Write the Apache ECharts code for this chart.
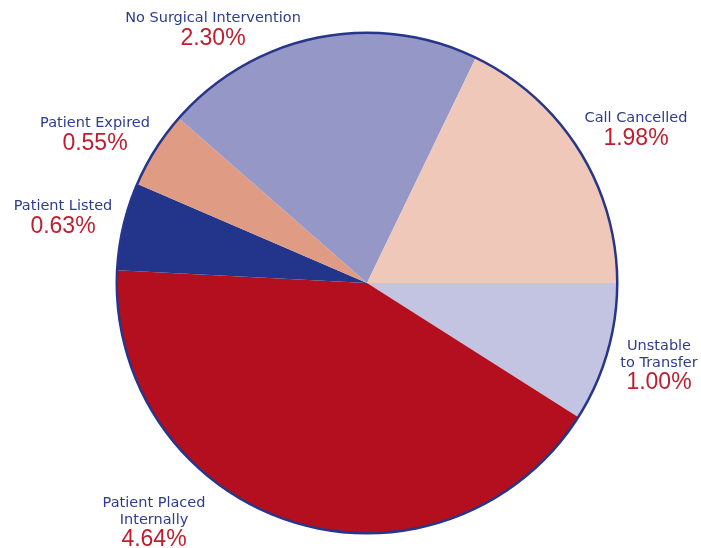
<!DOCTYPE html>
<html>
<head>
<meta charset="utf-8">
<script src="https://cdn.jsdelivr.net/npm/echarts@6/dist/echarts.min.js"></script>
<style>html,body{margin:0;padding:0;background:#fff;}#c{width:701px;height:548px;}</style>
</head>
<body>
<div id="c"></div>
<script>
var categories = ['Unstable\nto Transfer', 'Patient Placed\nInternally', 'Patient Listed', 'Patient Expired', 'No Surgical Intervention', 'Call Cancelled'];
var values = [1.00, 4.64, 0.63, 0.55, 2.30, 1.98];
var valueLabels = ['1.00%', '4.64%', '0.63%', '0.55%', '2.30%', '1.98%'];
var colors = ['#c3c4e1', '#b30f1e', '#22358a', '#e09b85', '#9597c6', '#efc8b9'];
var labelPos = [[659, 338], [154, 495], [63, 198], [95, 115], [213, 10], [636, 110]];

var chart = echarts.init(document.getElementById('c'));
var data = categories.map(function (c, i) {
  return { name: c, value: values[i], itemStyle: { color: colors[i] } };
});
chart.setOption({
  animation: false,
  series: [{
    type: 'pie',
    center: [367, 283],
    radius: 250,
    startAngle: 0,
    clockwise: true,
    avoidLabelOverlap: false,
    itemStyle: { borderWidth: 0 },
    emphasis: { disabled: true },
    label: {
      show: true,
      position: 'outside',
      formatter: function (p) {
        return '{n|' + p.name.split('\n').join('}\n{n|') + '}\n{p|' + valueLabels[p.dataIndex] + '}';
      },
      rich: {
        n: { fontFamily: 'DejaVu Sans, Verdana, sans-serif', fontSize: 14.5, color: '#2e3c8f', lineHeight: 16.5, align: 'center' },
        p: { fontFamily: 'Liberation Sans, Arial, sans-serif', fontSize: 23, color: '#be1e2d', lineHeight: 24, align: 'center' }
      }
    },
    labelLine: { show: false },
    labelLayout: function (params) {
      var pos = labelPos[params.dataIndex];
      return { x: pos[0], y: pos[1], align: 'center', verticalAlign: 'top' };
    },
    data: data
  }, {
    type: 'pie',
    center: [367, 283],
    radius: [249, 251.5],
    silent: true,
    label: { show: false },
    labelLine: { show: false },
    itemStyle: { color: '#27368a' },
    data: [{ value: 1 }]
  }]
});
</script>
</body>
</html>
